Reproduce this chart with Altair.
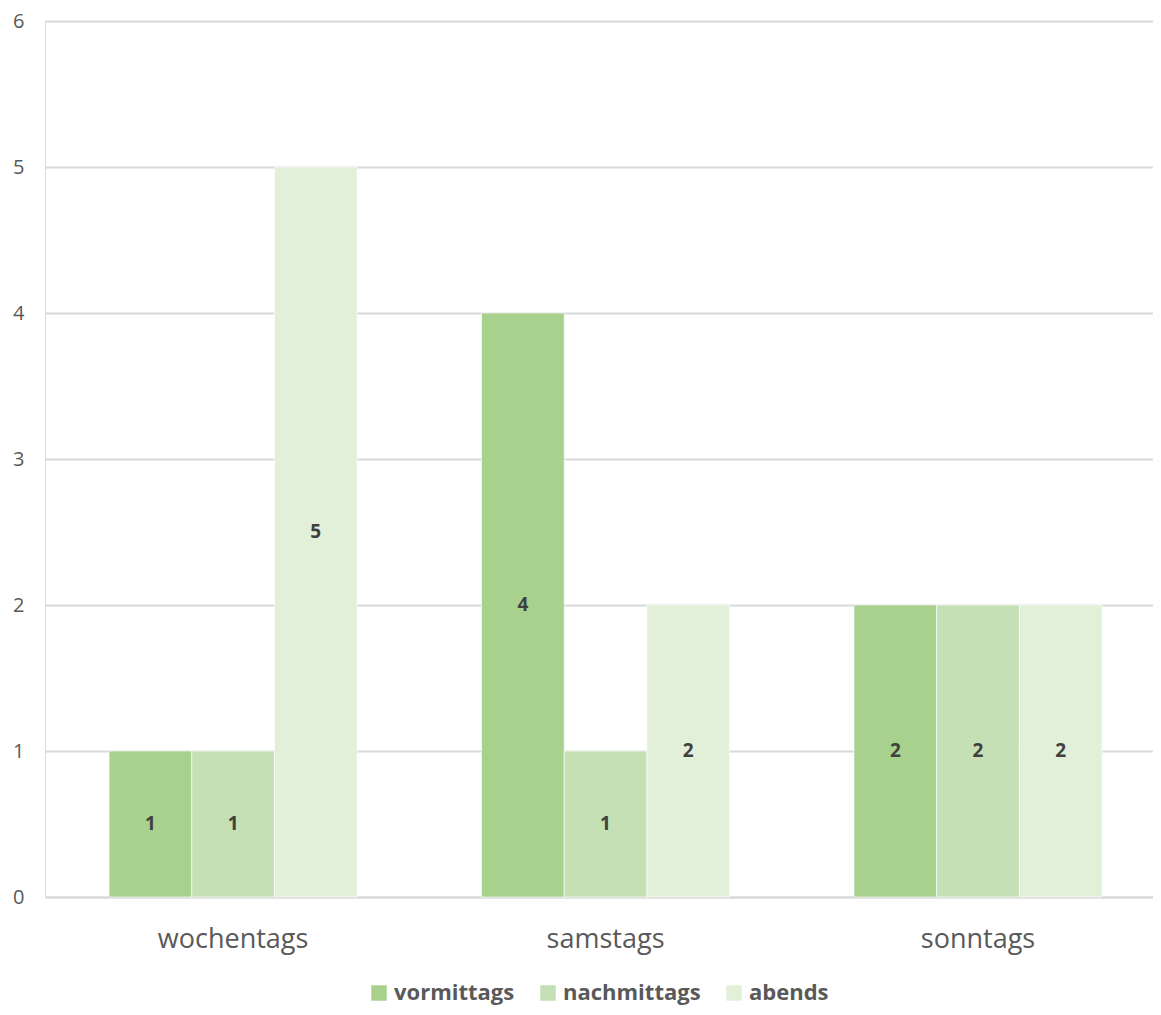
import altair as alt
import pandas as pd

categories = ["wochentags", "samstags", "sonntags"]
series = ["vormittags", "nachmittags", "abends"]
values = {
    "vormittags": [1, 4, 2],
    "nachmittags": [1, 1, 2],
    "abends": [5, 2, 2],
}
colors = ["#A9D18E", "#C5E0B4", "#E2F0D9"]
y_ticks = [0, 1, 2, 3, 4, 5, 6]

rows = []
for s in series:
    for c, v in zip(categories, values[s]):
        rows.append({"Kategorie": c, "Serie": s, "Wert": v})
df = pd.DataFrame(rows)

FONT = "Open Sans"

x_enc = alt.X("Kategorie:N", sort=categories,
              scale=alt.Scale(paddingInner=0.334, paddingOuter=0.1544, align=0.557),
              axis=alt.Axis(title=None, labelAngle=0, labelFontSize=27, labelColor="#595959",
                            labelFont=FONT, ticks=False, domain=True, domainColor="#D9D9D9",
                            domainWidth=2, labelPadding=29, labelBaseline="top"))
xoff = alt.XOffset("Serie:N", sort=series, scale=alt.Scale(paddingInner=0, paddingOuter=0))

base = alt.Chart(df)

bars = base.mark_bar(stroke="white", strokeWidth=0.6).encode(
    x=x_enc,
    xOffset=xoff,
    y=alt.Y("Wert:Q", scale=alt.Scale(domain=[0, 6]),
            axis=alt.Axis(title=None, values=y_ticks, format="d", labelFontSize=20,
                          labelColor="#595959", labelFont=FONT, ticks=False, domain=False,
                          grid=True, gridColor="#D9D9D9", gridWidth=2, labelPadding=21)),
    color=alt.Color("Serie:N", sort=series,
                    scale=alt.Scale(domain=series, range=colors),
                    legend=alt.Legend(title=None, orient="none", direction="horizontal",
                                      legendX=323, legendY=961, symbolType="square",
                                      symbolSize=240, symbolStrokeWidth=0,
                                      labelFontSize=22, labelFont=FONT, labelFontWeight="bold",
                                      labelColor="#595959", columnPadding=22, labelOffset=4)),
)

labels = base.transform_calculate(mid="datum.Wert / 2").mark_text(
    font=FONT, fontSize=19, fontWeight="bold", color="#404040", baseline="middle"
).encode(
    x=alt.X("Kategorie:N", sort=categories),
    xOffset=alt.XOffset("Serie:N", sort=series),
    y=alt.Y("mid:Q"),
    text=alt.Text("Wert:Q"),
)

chart = alt.layer(bars, labels).properties(
    width=1108, height=876,
    padding={"left": 37, "top": 13, "right": 0, "bottom": 112},
    autosize=alt.AutoSizeParams(type="none"),
).configure_view(stroke=None).configure(background="white")

chart.save("out.html", embed_options={"renderer": "svg", "actions": False})
